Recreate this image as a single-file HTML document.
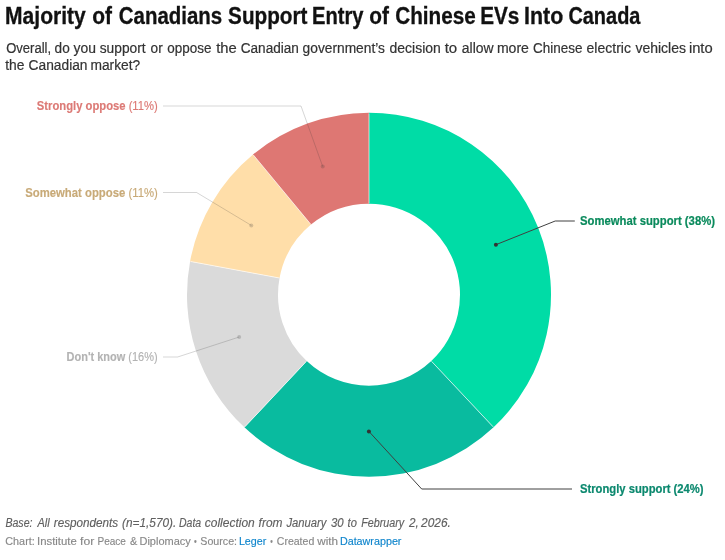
<!DOCTYPE html>
<html><head><meta charset="utf-8">
<style>
html,body{margin:0;padding:0;background:#fff;}
body{width:725px;height:560px;overflow:hidden;}
svg{display:block;will-change:transform;}
text{font-family:"Liberation Sans",sans-serif;}
</style></head><body>
<svg width="725" height="560" viewBox="0 0 725 560">
<g>
<path d="M369.00,112.70A182.0,182.0 0 0 1 493.59,427.37L431.29,361.04A91.0,91.0 0 0 0 369.00,203.70Z" fill="#00dca6"/>
<path d="M493.59,427.37A182.0,182.0 0 0 1 244.41,427.37L306.71,361.04A91.0,91.0 0 0 0 431.29,361.04Z" fill="#09bb9f"/>
<path d="M244.41,427.37A182.0,182.0 0 0 1 190.08,261.38L279.54,278.04A91.0,91.0 0 0 0 306.71,361.04Z" fill="#dadada"/>
<path d="M190.08,261.38A182.0,182.0 0 0 1 252.99,154.47L310.99,224.58A91.0,91.0 0 0 0 279.54,278.04Z" fill="#ffdea9"/>
<path d="M252.99,154.47A182.0,182.0 0 0 1 369.00,112.70L369.00,203.70A91.0,91.0 0 0 0 310.99,224.58Z" fill="#de7773"/>
</g>
<g stroke="#fff" stroke-width="0.8" stroke-opacity="0.8">
<line x1="369.00" y1="203.10" x2="369.00" y2="113.50"/>
<line x1="431.70" y1="361.47" x2="493.04" y2="426.79"/>
<line x1="306.30" y1="361.47" x2="244.96" y2="426.79"/>
<line x1="278.95" y1="277.93" x2="190.86" y2="261.53"/>
<line x1="310.61" y1="224.12" x2="253.50" y2="155.08"/>
</g>
<g>
<path d="M322.7,166.5 L301,106.0 L163,106.0" fill="none" stroke="rgba(51,51,51,0.2)" stroke-width="1"/>
<circle cx="322.7" cy="166.5" r="2" fill="rgba(51,51,51,0.2)"/>
<path d="M251.3,225.4 L196.6,192.5 L163,192.5" fill="none" stroke="rgba(51,51,51,0.2)" stroke-width="1"/>
<circle cx="251.3" cy="225.4" r="2" fill="rgba(51,51,51,0.2)"/>
<path d="M239.2,337.0 L177.6,357.0 L163,357.0" fill="none" stroke="rgba(51,51,51,0.2)" stroke-width="1"/>
<circle cx="239.2" cy="337.0" r="2" fill="rgba(51,51,51,0.2)"/>
<path d="M495.9,244.7 L555.2,221.0 L574.8,221.0" fill="none" stroke="#404040" stroke-width="1"/>
<circle cx="495.9" cy="244.7" r="2" fill="#333"/>
<path d="M368.9,431.4 L421.7,489.0 L572,489.0" fill="none" stroke="#404040" stroke-width="1"/>
<circle cx="368.9" cy="431.4" r="2" fill="#333"/>
</g>
<g><text x="5.10" y="24" font-size="23" font-weight="bold" fill="#111" stroke="#111" stroke-width="0.3" textLength="80.65" lengthAdjust="spacingAndGlyphs">Majority</text><text x="92.20" y="24" font-size="23" font-weight="bold" fill="#111" stroke="#111" stroke-width="0.3" textLength="19.73" lengthAdjust="spacingAndGlyphs">of</text><text x="118.80" y="24" font-size="23" font-weight="bold" fill="#111" stroke="#111" stroke-width="0.3" textLength="103.36" lengthAdjust="spacingAndGlyphs">Canadians</text><text x="228.10" y="24" font-size="23" font-weight="bold" fill="#111" stroke="#111" stroke-width="0.3" textLength="79.31" lengthAdjust="spacingAndGlyphs">Support</text><text x="312.10" y="24" font-size="23" font-weight="bold" fill="#111" stroke="#111" stroke-width="0.3" textLength="51.48" lengthAdjust="spacingAndGlyphs">Entry</text><text x="369.30" y="24" font-size="23" font-weight="bold" fill="#111" stroke="#111" stroke-width="0.3" textLength="19.62" lengthAdjust="spacingAndGlyphs">of</text><text x="395.20" y="24" font-size="23" font-weight="bold" fill="#111" stroke="#111" stroke-width="0.3" textLength="80.61" lengthAdjust="spacingAndGlyphs">Chinese</text><text x="480.20" y="24" font-size="23" font-weight="bold" fill="#111" stroke="#111" stroke-width="0.3" textLength="39.21" lengthAdjust="spacingAndGlyphs">EVs</text><text x="524.10" y="24" font-size="23" font-weight="bold" fill="#111" stroke="#111" stroke-width="0.3" textLength="39.16" lengthAdjust="spacingAndGlyphs">Into</text><text x="568.40" y="24" font-size="23" font-weight="bold" fill="#111" stroke="#111" stroke-width="0.3" textLength="72.01" lengthAdjust="spacingAndGlyphs">Canada</text></g>
<g><text x="6.20" y="52.6" font-size="14" fill="#333" stroke="#333" stroke-width="0.2" textLength="44.91" lengthAdjust="spacingAndGlyphs">Overall,</text><text x="54.60" y="52.6" font-size="14" fill="#333" stroke="#333" stroke-width="0.2" textLength="15.13" lengthAdjust="spacingAndGlyphs">do</text><text x="73.60" y="52.6" font-size="14" fill="#333" stroke="#333" stroke-width="0.2" textLength="22.44" lengthAdjust="spacingAndGlyphs">you</text><text x="99.70" y="52.6" font-size="14" fill="#333" stroke="#333" stroke-width="0.2" textLength="45.97" lengthAdjust="spacingAndGlyphs">support</text><text x="150.60" y="52.6" font-size="14" fill="#333" stroke="#333" stroke-width="0.2" textLength="12.13" lengthAdjust="spacingAndGlyphs">or</text><text x="167.30" y="52.6" font-size="14" fill="#333" stroke="#333" stroke-width="0.2" textLength="44.20" lengthAdjust="spacingAndGlyphs">oppose</text><text x="216.20" y="52.6" font-size="14" fill="#333" stroke="#333" stroke-width="0.2" textLength="20.55" lengthAdjust="spacingAndGlyphs">the</text><text x="240.70" y="52.6" font-size="14" fill="#333" stroke="#333" stroke-width="0.2" textLength="58.21" lengthAdjust="spacingAndGlyphs">Canadian</text><text x="302.60" y="52.6" font-size="14" fill="#333" stroke="#333" stroke-width="0.2" textLength="82.35" lengthAdjust="spacingAndGlyphs">government’s</text><text x="389.60" y="52.6" font-size="14" fill="#333" stroke="#333" stroke-width="0.2" textLength="51.23" lengthAdjust="spacingAndGlyphs">decision</text><text x="444.70" y="52.6" font-size="14" fill="#333" stroke="#333" stroke-width="0.2" textLength="12.54" lengthAdjust="spacingAndGlyphs">to</text><text x="461.80" y="52.6" font-size="14" fill="#333" stroke="#333" stroke-width="0.2" textLength="31.77" lengthAdjust="spacingAndGlyphs">allow</text><text x="496.90" y="52.6" font-size="14" fill="#333" stroke="#333" stroke-width="0.2" textLength="32.07" lengthAdjust="spacingAndGlyphs">more</text><text x="533.10" y="52.6" font-size="14" fill="#333" stroke="#333" stroke-width="0.2" textLength="49.41" lengthAdjust="spacingAndGlyphs">Chinese</text><text x="586.60" y="52.6" font-size="14" fill="#333" stroke="#333" stroke-width="0.2" textLength="44.31" lengthAdjust="spacingAndGlyphs">electric</text><text x="635.40" y="52.6" font-size="14" fill="#333" stroke="#333" stroke-width="0.2" textLength="50.64" lengthAdjust="spacingAndGlyphs">vehicles</text><text x="688.90" y="52.6" font-size="14" fill="#333" stroke="#333" stroke-width="0.2" textLength="23.77" lengthAdjust="spacingAndGlyphs">into</text></g>
<g><text x="5.20" y="70.2" font-size="14" fill="#333" stroke="#333" stroke-width="0.2" textLength="19.22" lengthAdjust="spacingAndGlyphs">the</text><text x="28.60" y="70.2" font-size="14" fill="#333" stroke="#333" stroke-width="0.2" textLength="58.90" lengthAdjust="spacingAndGlyphs">Canadian</text><text x="90.40" y="70.2" font-size="14" fill="#333" stroke="#333" stroke-width="0.2" textLength="49.85" lengthAdjust="spacingAndGlyphs">market?</text></g>

<text x="157.8" y="110" font-size="12" fill="#dc7a76" stroke="#dc7a76" stroke-width="0.15" text-anchor="end" textLength="121" lengthAdjust="spacingAndGlyphs"><tspan font-weight="bold">Strongly oppose</tspan> (11%)</text>
<text x="157.8" y="197" font-size="12" fill="#c8aa78" stroke="#c8aa78" stroke-width="0.15" text-anchor="end" textLength="132.6" lengthAdjust="spacingAndGlyphs"><tspan font-weight="bold">Somewhat oppose</tspan> (11%)</text>
<text x="157.6" y="361" font-size="12" fill="#b3b3b3" stroke="#b3b3b3" stroke-width="0.15" text-anchor="end" textLength="91" lengthAdjust="spacingAndGlyphs"><tspan font-weight="bold">Don't know</tspan> (16%)</text>
<text x="580" y="225" font-size="12" font-weight="bold" fill="#0a8a5c" stroke="#0a8a5c" stroke-width="0.2" textLength="135" lengthAdjust="spacingAndGlyphs">Somewhat support (38%)</text>
<text x="580" y="493" font-size="12" font-weight="bold" fill="#0b886e" stroke="#0b886e" stroke-width="0.2" textLength="123.6" lengthAdjust="spacingAndGlyphs">Strongly support (24%)</text>

<g><text x="5.40" y="527.4" font-size="12" font-style="italic" fill="#606060" stroke="#606060" stroke-width="0.15" textLength="27.11" lengthAdjust="spacingAndGlyphs">Base:</text><text x="37.40" y="527.4" font-size="12" font-style="italic" fill="#606060" stroke="#606060" stroke-width="0.15" textLength="12.18" lengthAdjust="spacingAndGlyphs">All</text><text x="53.80" y="527.4" font-size="12" font-style="italic" fill="#606060" stroke="#606060" stroke-width="0.15" textLength="64.43" lengthAdjust="spacingAndGlyphs">respondents</text><text x="122.10" y="527.4" font-size="12" font-style="italic" fill="#606060" stroke="#606060" stroke-width="0.15" textLength="54.20" lengthAdjust="spacingAndGlyphs">(n=1,570).</text><text x="179.00" y="527.4" font-size="12" font-style="italic" fill="#606060" stroke="#606060" stroke-width="0.15" textLength="22.18" lengthAdjust="spacingAndGlyphs">Data</text><text x="204.80" y="527.4" font-size="12" font-style="italic" fill="#606060" stroke="#606060" stroke-width="0.15" textLength="49.91" lengthAdjust="spacingAndGlyphs">collection</text><text x="258.60" y="527.4" font-size="12" font-style="italic" fill="#606060" stroke="#606060" stroke-width="0.15" textLength="23.88" lengthAdjust="spacingAndGlyphs">from</text><text x="286.40" y="527.4" font-size="12" font-style="italic" fill="#606060" stroke="#606060" stroke-width="0.15" textLength="40.00" lengthAdjust="spacingAndGlyphs">January</text><text x="331.00" y="527.4" font-size="12" font-style="italic" fill="#606060" stroke="#606060" stroke-width="0.15" textLength="12.70" lengthAdjust="spacingAndGlyphs">30</text><text x="347.60" y="527.4" font-size="12" font-style="italic" fill="#606060" stroke="#606060" stroke-width="0.15" textLength="9.30" lengthAdjust="spacingAndGlyphs">to</text><text x="361.20" y="527.4" font-size="12" font-style="italic" fill="#606060" stroke="#606060" stroke-width="0.15" textLength="43.00" lengthAdjust="spacingAndGlyphs">February</text><text x="409.00" y="527.4" font-size="12" font-style="italic" fill="#606060" stroke="#606060" stroke-width="0.15" textLength="9.79" lengthAdjust="spacingAndGlyphs">2,</text><text x="421.10" y="527.4" font-size="12" font-style="italic" fill="#606060" stroke="#606060" stroke-width="0.15" textLength="29.83" lengthAdjust="spacingAndGlyphs">2026.</text></g>
<g><text x="5.30" y="545.2" font-size="11" fill="#888" stroke="#888" stroke-width="0.15" textLength="29.47" lengthAdjust="spacingAndGlyphs">Chart:</text><text x="37.10" y="545.2" font-size="11" fill="#888" stroke="#888" stroke-width="0.15" textLength="39.69" lengthAdjust="spacingAndGlyphs">Institute</text><text x="80.10" y="545.2" font-size="11" fill="#888" stroke="#888" stroke-width="0.15" textLength="14.17" lengthAdjust="spacingAndGlyphs">for</text><text x="97.50" y="545.2" font-size="11" fill="#888" stroke="#888" stroke-width="0.15" textLength="28.46" lengthAdjust="spacingAndGlyphs">Peace</text><text x="129.90" y="545.2" font-size="11" fill="#888" stroke="#888" stroke-width="0.15" textLength="7.24" lengthAdjust="spacingAndGlyphs">&amp;</text><text x="139.50" y="545.2" font-size="11" fill="#888" stroke="#888" stroke-width="0.15" textLength="51.26" lengthAdjust="spacingAndGlyphs">Diplomacy</text><text x="194.10" y="545.2" font-size="11" fill="#888" stroke="#888" stroke-width="0.15" textLength="2.72" lengthAdjust="spacingAndGlyphs">•</text><text x="200.30" y="545.2" font-size="11" fill="#888" stroke="#888" stroke-width="0.15" textLength="36.79" lengthAdjust="spacingAndGlyphs">Source:</text><text x="238.90" y="545.2" font-size="11" fill="#0f85cc" stroke="#0f85cc" stroke-width="0.15" textLength="27.42" lengthAdjust="spacingAndGlyphs">Leger</text><text x="270.30" y="545.2" font-size="11" fill="#888" stroke="#888" stroke-width="0.15" textLength="2.53" lengthAdjust="spacingAndGlyphs">•</text><text x="276.80" y="545.2" font-size="11" fill="#888" stroke="#888" stroke-width="0.15" textLength="37.45" lengthAdjust="spacingAndGlyphs">Created</text><text x="317.20" y="545.2" font-size="11" fill="#888" stroke="#888" stroke-width="0.15" textLength="20.81" lengthAdjust="spacingAndGlyphs">with</text><text x="339.90" y="545.2" font-size="11" fill="#0f85cc" stroke="#0f85cc" stroke-width="0.15" textLength="61.56" lengthAdjust="spacingAndGlyphs">Datawrapper</text></g>
</svg>
</body></html>
